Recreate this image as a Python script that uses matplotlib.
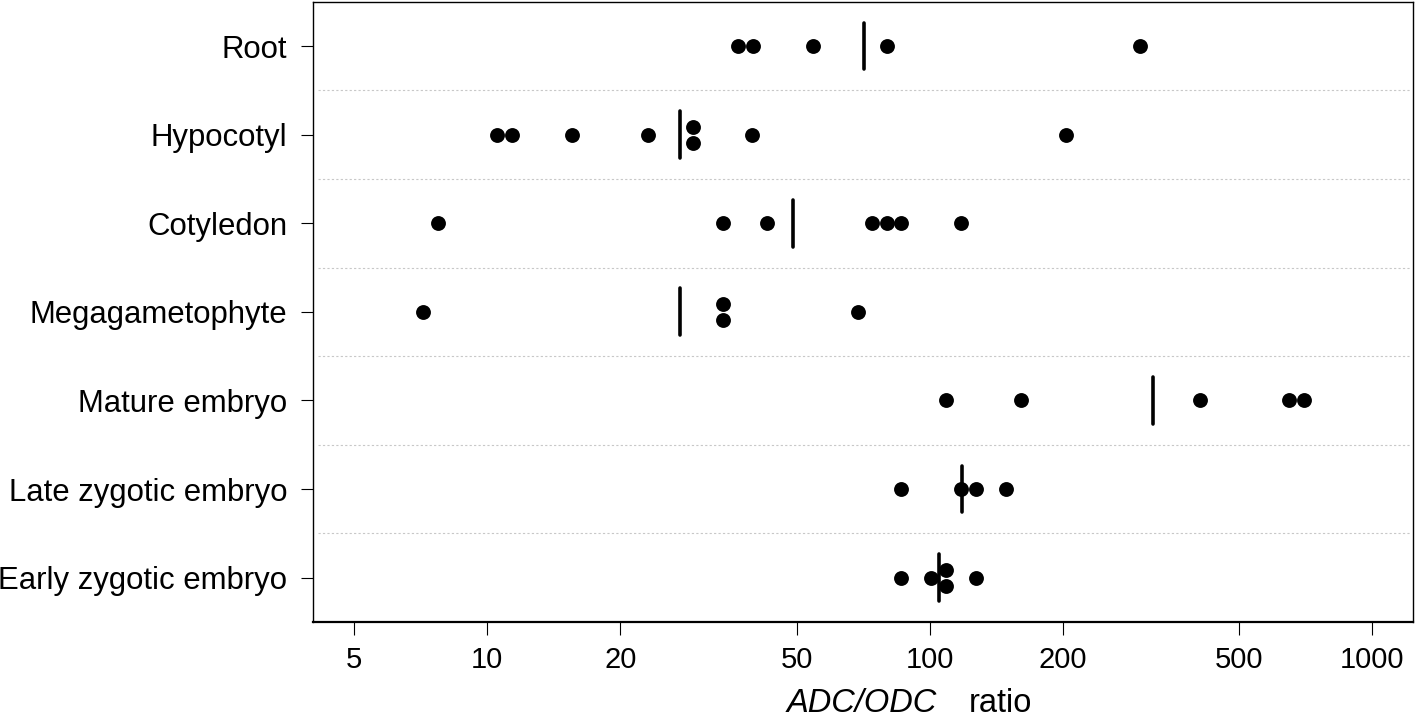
import numpy as np
import matplotlib
matplotlib.use("Agg")
import matplotlib.pyplot as plt

plt.rcParams['font.family'] = ['Liberation Sans', 'DejaVu Sans']

# tissues, bottom row first
tissues = ["Early zygotic embryo", "Late zygotic embryo", "Mature embryo",
           "Megagametophyte", "Cotyledon", "Hypocotyl", "Root"]

# ADC/ODC ratio of each sample
early_zyg = [86.1, 100.4, 108.9, 108.9, 127.4]
late_zyg = [86.1, 117.7, 127.4, 148.5]
mature = [108.9, 160.6, 407.8, 649.5, 701.5]
megagam = [7.14, 34.1, 34.1, 68.8]
cotyledon = [7.72, 34.1, 42.95, 73.9, 79.9, 86.1, 117.7]
hypocotyl = [10.54, 11.39, 15.57, 23.03, 29.1, 29.1, 39.7, 203.0]
root = [36.8, 39.9, 54.4, 80.1, 299.0]
samples = [early_zyg, late_zyg, mature, megagam, cotyledon, hypocotyl, root]

# vertical bars (group mean)
bar_vals = [105.0, 118.4, 319.3, 27.3, 49.2, 27.2, 71.1]

x_ticks = [5, 10, 20, 50, 100, 200, 500, 1000]

fig = plt.figure(figsize=(14.17, 7.18), dpi=100)
ax = fig.add_axes([0.2211, 0.1337, 0.7761, 0.8639])
ax.set_xscale('log')
ax.set_xlim(4.045, 1236)
ax.set_ylim(0.5, 7.5)

# dotted separators between rows
for k in range(1, len(tissues)):
    ax.axhline(k + 0.5, xmin=0.004, xmax=0.997, color='#c8c8c8',
               lw=0.8, ls=(0, (2, 2)), zorder=1)

rows = np.arange(1, len(tissues) + 1)
bars = ax.vlines(bar_vals, rows - 0.264, rows + 0.264, color='black', lw=2.6, zorder=2)
bars.set_capstyle('round')

# duplicated values are stacked one above the other
for row, vals in zip(rows, samples):
    vals = np.array(vals)
    ys = np.full(len(vals), float(row))
    for v in np.unique(vals):
        idx = np.where(vals == v)[0]
        if len(idx) == 2:
            ys[idx[0]] = row + 0.09
            ys[idx[1]] = row - 0.09
    ax.plot(vals, ys, 'o', color='black', ms=10.7, mew=0, zorder=3)

ax.set_yticks(rows)
ax.set_yticklabels(tissues, fontsize=22.4)
ax.set_xticks(x_ticks)
ax.set_xticklabels([str(t) for t in x_ticks], fontsize=21)
ax.xaxis.set_minor_locator(matplotlib.ticker.NullLocator())
ax.tick_params(axis='x', length=9, width=0.8, pad=8.5)
ax.tick_params(axis='y', length=9, width=0.8, pad=9.6)

for s in ax.spines.values():
    s.set_linewidth(1.0)
ax.spines['bottom'].set_linewidth(1.6)

fig.text(787 / 1417, 0.0085, "ADC/ODC", style='italic', fontsize=23.5,
         ha='left', va='baseline')
fig.text(969 / 1417, 0.0085, "ratio", fontsize=23.5, ha='left', va='baseline')

fig.savefig("out.png", dpi=100)
plt.close('all')
